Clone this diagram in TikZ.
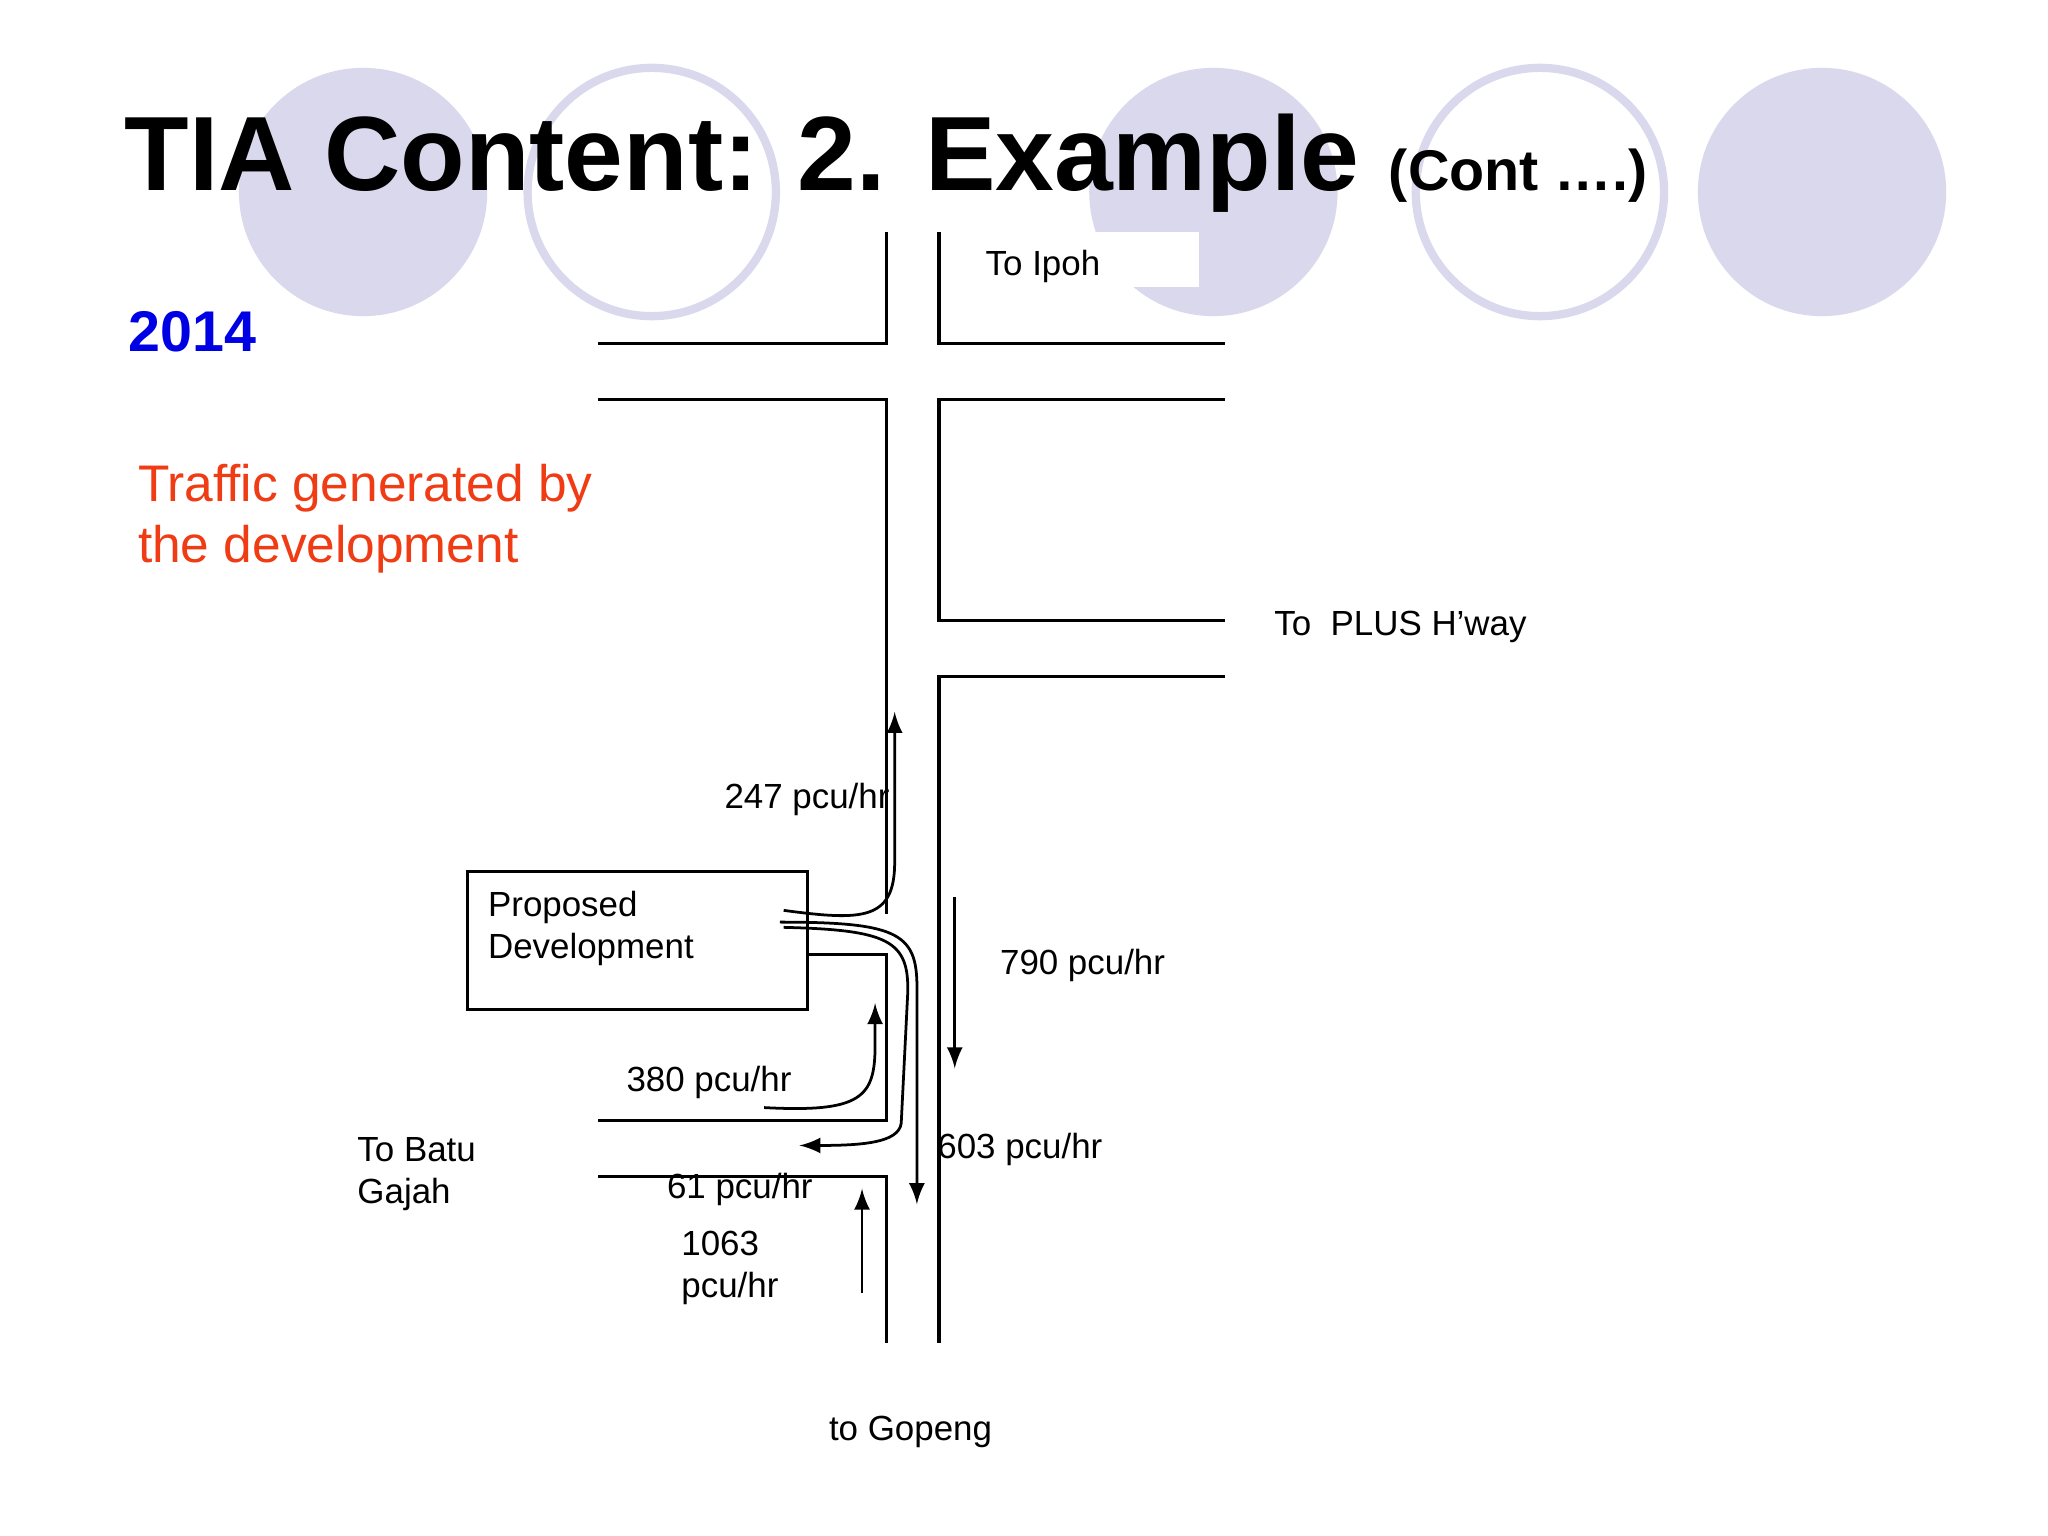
\documentclass[tikz,border=0pt]{standalone}
\usepackage{fontspec}
\setmainfont{Liberation Sans}
\definecolor{lav}{RGB}{218,216,236}
\definecolor{tred}{RGB}{240,60,20}
\begin{document}
\begin{tikzpicture}[x=0.01cm,y=-0.01cm,
  road/.style={line width=0.7pt},
  flow/.style={line width=0.6pt,-latex},
  lbl/.style={anchor=west,font=\fontsize{7.6}{9.1}\selectfont,inner sep=0},
  fc/.style={fill=lav,draw=none},
  oc/.style={draw=lav,line width=1.8pt}]
\useasboundingbox (0,0) rectangle (1568,1176);
\fill[white] (0,0) rectangle (1568,1176);
\node[fc,circle,minimum size=1.9cm] (c1) at (278,147) {};
\node[oc,circle,minimum size=1.9cm] (c2) at (499,147) {};
\node[fc,circle,minimum size=1.9cm] (c3) at (929,147) {};
\node[oc,circle,minimum size=1.9cm] (c4) at (1179,147) {};
\node[fc,circle,minimum size=1.9cm] (c5) at (1395,147) {};
\fill[white] (720,178) rectangle (918,220);
\node[anchor=base west,inner sep=0,font=\fontsize{23}{26}\selectfont\bfseries] (title) at (95,146) {TIA Content: 2. Example \fontsize{12.5}{15}\selectfont(Cont ….)};
\node[anchor=base west,inner sep=0,font=\fontsize{12.5}{15}\selectfont\bfseries,text=blue!90!black] (yr) at (98,269) {2014};
\node[anchor=north west,inner sep=0,align=left,font=\fontsize{11.2}{13.3}\selectfont,text=tred] (tg) at (105,355) {Traffic generated by\\the development};
% roads
\draw[road] (679,178) -- (679,263) -- (458,263);
\draw[road] (458,306) -- (679,306) -- (679,700);
\draw[road] (719,178) -- (719,263) -- (938,263);
\draw[road] (938,306) -- (719,306) -- (719,475) -- (938,475);
\draw[road] (938,518) -- (719,518) -- (719,1028);
\draw[road] (618,731) -- (679,731) -- (679,858) -- (458,858);
\draw[road] (458,901) -- (679,901) -- (679,1028);
\node[draw,line width=0.7pt,minimum width=2.6cm,minimum height=1.06cm] (pd) at (488,720) {};
\node[lbl,anchor=north west,align=left] (pdt) at (373,682) {Proposed\\Development};
% flows
\draw[flow] (600,697) .. controls (660,705) and (685,705) .. (685,660) -- (685,545);
\draw[flow] (585,848) .. controls (660,852) and (670,840) .. (670,800) -- (670,768);
\draw[flow] (597,706) .. controls (690,706) and (703,715) .. (702,760) -- (702,922);
\draw[flow] (600,710) .. controls (680,712) and (696,720) .. (695,760) -- (690,860) .. controls (688,875) and (660,877) .. (612,877);
\draw[flow] (731,687) -- (731,818);
\draw[flow] (660,990) -- (660,910);
\begin{scope}[every node/.style={lbl}]
\node (ipoh) at (754,204) {To Ipoh};
\node (plus) at (975,480) {To\ \ PLUS H’way};
\node (f247) at (554,612) {247 pcu/hr};
\node (f790) at (765,739) {790 pcu/hr};
\node (f380) at (479,829) {380 pcu/hr};
\node (f603) at (717,880) {603 pcu/hr};
\node (f61) at (510,911) {61 pcu/hr};
\node[align=left] (f1063) at (521,971) {1063\\pcu/hr};
\node[align=left] (batu) at (273,899) {To Batu\\Gajah};
\node (gop) at (634,1096) {to Gopeng};
\end{scope}
\end{tikzpicture}
\end{document}
